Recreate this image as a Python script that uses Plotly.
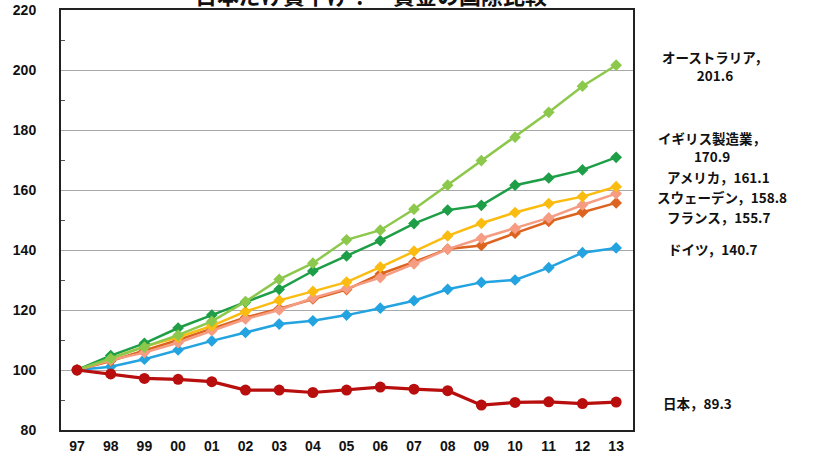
import plotly.graph_objects as go

# Wage index by year (1997 = 100)
years = ["97", "98", "99", "00", "01", "02", "03", "04", "05",
         "06", "07", "08", "09", "10", "11", "12", "13"]

australia = [100, 103.8, 107.6, 111.6, 116.2, 122.8, 130.2, 135.6, 143.4,
             146.6, 153.6, 161.6, 169.8, 177.6, 185.9, 194.6, 201.6]
uk_manufacturing = [100, 104.8, 108.9, 114.0, 118.3, 122.6, 126.9, 133.0, 138.0,
                    143.1, 148.8, 153.3, 154.9, 161.6, 164.0, 166.7, 170.9]
usa = [100, 104.0, 107.8, 110.9, 114.7, 119.5, 123.2, 126.2, 129.3,
       134.3, 139.6, 144.7, 148.9, 152.5, 155.5, 157.8, 161.1]
france = [100, 103.0, 106.5, 110.0, 113.8, 117.5, 120.4, 123.7, 126.8,
          132.0, 136.0, 140.3, 141.5, 145.6, 149.5, 152.6, 155.7]
sweden = [100, 103.3, 105.8, 109.1, 113.1, 117.0, 120.0, 124.0, 127.2,
          130.8, 135.4, 140.3, 143.9, 147.2, 150.7, 155.0, 158.8]
germany = [100, 101.1, 103.6, 106.7, 109.7, 112.5, 115.3, 116.4, 118.3,
           120.6, 123.1, 126.9, 129.2, 130.0, 134.1, 139.1, 140.7]
japan = [100, 98.7, 97.2, 96.9, 96.1, 93.3, 93.3, 92.5, 93.3,
         94.3, 93.6, 93.1, 88.3, 89.2, 89.4, 88.8, 89.3]

series = [
    ("ドイツ", germany, "#23A3E0", "diamond", 9, 2.5),
    ("フランス", france, "#DC6420", "diamond", 9, 2.5),
    ("スウェーデン", sweden, "#F59C82", "diamond", 9, 2.5),
    ("アメリカ", usa, "#FBBC12", "diamond", 9, 2.5),
    ("イギリス製造業", uk_manufacturing, "#1E9E46", "diamond", 9, 2.5),
    ("オーストラリア", australia, "#8CC84B", "diamond", 9, 2.5),
    ("日本", japan, "#B80E0E", "circle", 11, 3.2),
]

# End-of-line labels: (text, x pixel centre, y pixel centre)
end_labels = [
    ("オーストラリア，<br>201.6", 715, 66),
    ("イギリス製造業，<br>170.9", 712, 147),
    ("アメリカ，161.1", 718, 177),
    ("スウェーデン，158.8", 722, 197),
    ("フランス，155.7", 719, 217),
    ("ドイツ，140.7", 713, 249),
    ("日本，89.3", 698, 403),
]

W, H = 815, 453
ML, MR, MT, MB = 61, 182, 10, 23

fig = go.Figure()
for name, vals, color, sym, msize, lw in series:
    fig.add_trace(go.Scatter(
        x=years, y=vals, name=name, mode="lines+markers",
        line=dict(color=color, width=lw),
        marker=dict(symbol=sym, size=msize, color=color),
        showlegend=False,
    ))

label_font = dict(family="Noto Sans CJK JP", size=13.5, color="#111111")
for text, px, py in end_labels:
    bold = "<br>".join(f"<b>{part}</b>" for part in text.split("<br>"))
    fig.add_annotation(
        text=bold, xref="paper", yref="paper",
        x=(px - ML) / (W - ML - MR), y=1 - (py - MT) / (H - MT - MB),
        xanchor="center", yanchor="middle", showarrow=False, font=label_font,
    )

fig.add_annotation(
    text="<b>日本だけ賃下げ？　賃金の国際比較</b>", xref="paper", yref="paper",
    x=(371 - ML) / (W - ML - MR), y=1, xanchor="center", yanchor="bottom",
    yshift=-2, showarrow=False,
    font=dict(family="Noto Sans CJK JP", size=22, color="#111111"),
)

fig.update_layout(
    width=W, height=H,
    margin=dict(l=ML, r=MR, t=MT, b=MB, autoexpand=False),
    paper_bgcolor="white", plot_bgcolor="white",
    font=dict(family="Liberation Sans, Arial, sans-serif", color="#111111"),
)
fig.update_xaxes(
    type="category", range=[-0.475, 16.5], automargin=False,
    showgrid=False, ticks="", showline=True, linecolor="#222222", linewidth=2,
    mirror=True, tickfont=dict(size=14, family="Liberation Sans"),
    ticklabelstandoff=2,
    tickvals=years, ticktext=[f"<b>{y}</b>" for y in years],
)
fig.update_yaxes(
    range=[80, 220], tickvals=list(range(80, 221, 20)), automargin=False,
    ticktext=[f"<b>{v}</b>" for v in range(80, 221, 20)],
    showgrid=True, gridcolor="#A8A8A8", gridwidth=1.3,
    showline=True, linecolor="#222222", linewidth=2, mirror=True,
    ticks="", tickfont=dict(size=14, family="Liberation Sans"),
    ticklabelstandoff=20,
    minor=dict(tickvals=list(range(90, 220, 20)), ticks="inside",
               ticklen=4, tickcolor="#555555", showgrid=False),
    zeroline=False,
)

fig.write_html("out.html")
